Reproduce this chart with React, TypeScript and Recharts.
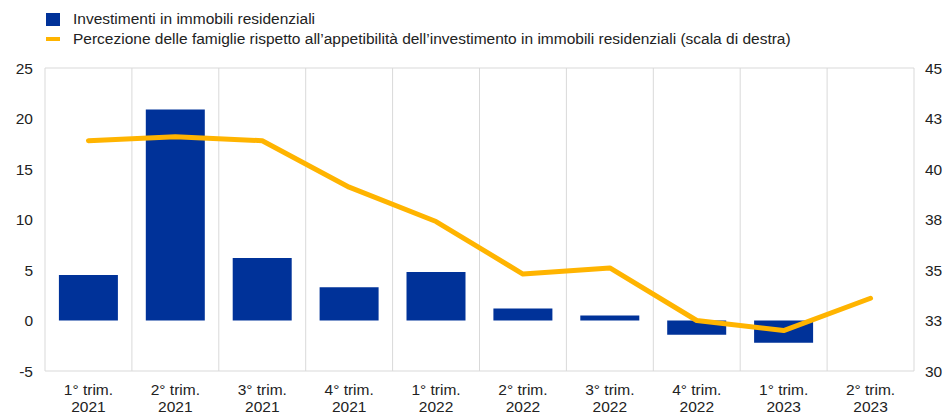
import { Bar, CartesianGrid, ComposedChart, Line, XAxis, YAxis } from "recharts";

const QUARTERS = ["1° trim.", "2° trim.", "3° trim.", "4° trim.", "1° trim.", "2° trim.", "3° trim.", "4° trim.", "1° trim.", "2° trim."];
const YEARS = ["2021", "2021", "2021", "2021", "2022", "2022", "2022", "2022", "2023", "2023"];
const INVESTMENT = [4.5, 20.9, 6.2, 3.3, 4.8, 1.2, 0.5, -1.4, -2.2, null];
const PERCEPTION = [41.4, 41.6, 41.4, 39.1, 37.4, 34.8, 35.1, 32.5, 32.0, 33.6];
const LEFT_TICKS = [-5, 0, 5, 10, 15, 20, 25];
const RIGHT_TICKS = [30, 32.5, 35, 37.5, 40, 42.5, 45];

const BLUE = "#003299";
const YELLOW = "#FFB400";
const FONT = "'Liberation Sans', Arial, sans-serif";
const FS = 15.5;

const data = QUARTERS.map((q, i) => ({
  key: `${q}|${YEARS[i]}`,
  investment: INVESTMENT[i],
  perception: PERCEPTION[i],
}));

// two-line category label: quarter on top, year below
function QuarterTick({ x, y, payload }: any) {
  const [q, yr] = String(payload.value).split("|");
  return (
    <g transform={`translate(${x},${y})`}>
      <text textAnchor="middle" fontSize={FS} fill="#222" fontFamily={FONT}>
        <tspan x={0} y={16}>{q}</tspan>
        <tspan x={0} y={33}>{yr}</tspan>
      </text>
    </g>
  );
}

export default function App() {
  const n = data.length;
  return (
    <div style={{ position: "absolute", left: 0, top: 0, width: 945, height: 415, background: "#fff", fontFamily: FONT }}>
      <div style={{ position: "absolute", left: 46, top: 9, fontSize: FS, color: "#222", lineHeight: "20px" }}>
        <div style={{ display: "flex", alignItems: "center" }}>
          <span style={{ display: "inline-block", width: 14, height: 13, background: BLUE, marginRight: 13 }} />
          Investimenti in immobili residenziali
        </div>
        <div style={{ display: "flex", alignItems: "center" }}>
          <span style={{ display: "inline-block", width: 14, height: 4, background: YELLOW, marginRight: 13 }} />
          Percezione delle famiglie rispetto all’appetibilità dell’investimento in immobili residenziali (scala di destra)
        </div>
      </div>
      <ComposedChart
        width={945}
        height={415}
        data={data}
        margin={{ top: 68, right: 0, bottom: 0, left: 0 }}
        barCategoryGap="16%"
        style={{ fontFamily: FONT }}
      >
        <CartesianGrid
          stroke="#d9d9d9"
          strokeWidth={1}
          verticalCoordinatesGenerator={({ offset }: any) =>
            Array.from({ length: n + 1 }, (_, i) => offset.left + (i * offset.width) / n)
          }
        />
        <XAxis
          dataKey="key"
          interval={0}
          axisLine={false}
          tickLine={false}
          tick={<QuarterTick />}
          height={44}
        />
        <YAxis
          yAxisId="left"
          domain={[-5, 25]}
          ticks={LEFT_TICKS}
          width={45}
          axisLine={false}
          tickLine={false}
          tickMargin={6}
          tick={{ fontSize: FS, fill: "#222" }}
        />
        <YAxis
          yAxisId="right"
          orientation="right"
          domain={[30, 45]}
          ticks={RIGHT_TICKS}
          tickFormatter={(v: number) => String(Math.round(v))}
          width={31}
          axisLine={false}
          tickLine={false}
          tickMargin={5}
          tick={{ fontSize: FS, fill: "#222", textAnchor: "start" }}
        />
        <Bar yAxisId="left" dataKey="investment" fill={BLUE} isAnimationActive={false} />
        <Line
          yAxisId="right"
          dataKey="perception"
          stroke={YELLOW}
          strokeWidth={5}
          strokeLinecap="round"
          strokeLinejoin="round"
          dot={false}
          activeDot={false}
          type="linear"
          isAnimationActive={false}
        />
      </ComposedChart>
    </div>
  );
}
